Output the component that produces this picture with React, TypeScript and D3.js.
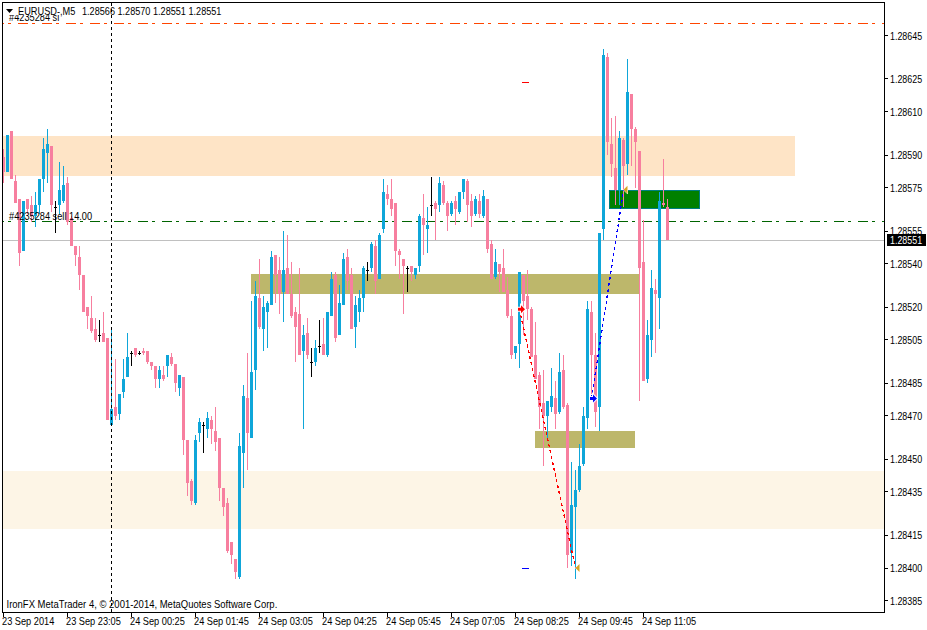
import * as React from "react";
import * as d3 from "d3";

const WIDTH = 927;
const HEIGHT = 630;

// prices are points above 1.28000, one entry per 5 minute bar
const opens = [
  589, 582, 601, 578, 570, 546, 570, 567, 562, 567, 579, 591, 594, 566, 567, 569, 577, 561, 548, 543,
  535, 520, 515, 510, 507, 508, 506, 466, 474, 471, 481, 488, 499, 501, 499, 500, 500, 495, 493, 487,
  489, 493, 497, 494, 483, 488, 459, 440, 430, 462, 466, 464, 468, 463, 460, 437, 430, 412, 404, 396,
  453, 478, 460, 491, 524, 510, 518, 521, 544, 537, 527, 538, 526, 518, 517, 500, 508, 495, 495, 502,
  503, 498, 516, 535, 507, 521, 543, 535, 511, 518, 524, 537, 538, 548, 533, 556, 572, 570, 568, 546,
  542, 538, 539, 535, 539, 561, 556, 567, 568, 567, 576, 568, 563, 569, 564, 573, 578, 569, 563, 569,
  562, 570, 549, 534, 540, 538, 528, 516, 499, 503, 535, 525, 519, 498, 489, 476, 470, 474, 478, 472,
  491, 475, 407, 428, 436, 448, 469, 518, 498, 474, 556, 635, 595, 584, 574, 597, 586, 618, 602, 592,
  541, 487, 505, 528, 524, 568, 566,
];
const highs = [
  593, 599, 601, 581, 570, 569, 570, 571, 573, 579, 598, 602, 594, 569, 587, 585, 580, 562, 548, 548,
  535, 520, 525, 515, 514, 518, 506, 510, 496, 480, 496, 508, 500, 501, 500, 501, 500, 495, 493, 493,
  493, 498, 499, 494, 489, 488, 459, 441, 461, 469, 467, 472, 470, 474, 460, 437, 432, 412, 404, 462,
  484, 499, 523, 532, 542, 525, 523, 546, 544, 543, 555, 553, 541, 520, 538, 512, 515, 501, 505, 514,
  515, 518, 536, 536, 530, 545, 547, 538, 525, 528, 539, 541, 550, 551, 554, 579, 576, 579, 568, 547,
  542, 539, 539, 538, 563, 572, 566, 580, 569, 580, 578, 569, 569, 571, 573, 579, 579, 572, 571, 572,
  574, 570, 551, 547, 540, 547, 534, 519, 502, 536, 535, 537, 520, 513, 490, 491, 477, 492, 486, 499,
  498, 476, 449, 445, 457, 474, 523, 523, 508, 554, 639, 637, 607, 608, 601, 598, 634, 618, 603, 592,
  560, 514, 537, 533, 573, 588, 570,
];
const lows = [
  577, 582, 579, 568, 539, 546, 563, 559, 557, 563, 573, 577, 564, 554, 563, 568, 558, 548, 539, 528,
  518, 510, 508, 504, 504, 504, 468, 466, 468, 468, 478, 488, 493, 497, 498, 498, 494, 491, 483, 483,
  486, 488, 493, 481, 479, 452, 433, 429, 429, 458, 453, 460, 457, 454, 431, 424, 407, 402, 395, 395,
  437, 445, 460, 482, 510, 500, 501, 521, 522, 517, 513, 526, 515, 495, 498, 464, 496, 488, 493, 499,
  498, 497, 516, 504, 507, 521, 528, 510, 501, 513, 518, 532, 536, 526, 533, 554, 567, 562, 539, 533,
  517, 527, 532, 533, 536, 544, 545, 562, 551, 564, 567, 555, 562, 558, 563, 570, 559, 557, 562, 561,
  561, 545, 533, 533, 527, 527, 515, 496, 496, 492, 507, 514, 497, 487, 464, 447, 460, 472, 464, 471,
  473, 400, 401, 395, 435, 447, 464, 480, 465, 463, 551, 590, 580, 567, 567, 566, 581, 585, 575, 477,
  486, 485, 497, 499, 510, 566, 551,
];
const closes = [
  582, 599, 579, 568, 545, 569, 565, 562, 567, 579, 593, 595, 567, 566, 574, 576, 559, 548, 544, 535,
  518, 516, 509, 505, 507, 504, 468, 473, 470, 480, 487, 497, 499, 498, 499, 499, 495, 493, 487, 491,
  487, 498, 494, 485, 489, 459, 439, 431, 459, 467, 466, 469, 464, 458, 437, 428, 408, 406, 398, 456,
  479, 462, 490, 525, 511, 520, 522, 543, 535, 526, 537, 526, 516, 511, 498, 507, 498, 495, 501, 502,
  498, 518, 533, 506, 522, 542, 532, 510, 521, 524, 538, 537, 549, 532, 553, 573, 570, 565, 546, 544,
  539, 538, 536, 538, 562, 558, 558, 567, 565, 577, 568, 562, 568, 565, 573, 579, 567, 562, 570, 563,
  571, 547, 533, 541, 536, 527, 516, 498, 502, 536, 523, 519, 497, 487, 474, 470, 477, 479, 471, 490,
  474, 406, 429, 436, 447, 470, 519, 498, 472, 554, 636, 596, 586, 574, 598, 585, 619, 602, 596, 538,
  486, 507, 529, 526, 569, 567, 551,
];

const priceTicks = [645, 625, 610, 590, 575, 555, 540, 520, 505, 485, 470, 450, 435, 415, 400, 385];
const timeLabels = [
  "23 Sep 2014", "23 Sep 23:05", "24 Sep 00:25", "24 Sep 01:45", "24 Sep 03:05", "24 Sep 04:25",
  "24 Sep 05:45", "24 Sep 07:05", "24 Sep 08:25", "24 Sep 09:45", "24 Sep 11:05",
];
const BARS_PER_LABEL = 16;

// [first bar, last bar, top price, bottom price, fill]
const zones: [number, number, number, number, string][] = [
  [-0.1, 197.9, 598.8, 580.4, "#FEE4C6"],
  [-0.1, 220.1, 444.7, 418, "#FDF5E6"],
  [61.8, 158.9, 535.3, 526.1, "#BDB76B"],
  [132.8, 157.9, 463, 455.2, "#BDB76B"],
];
const box = { from: 151.6, to: 174.1, top: 573.7, bottom: 565.6 };

const LEVEL_STOP = 650.6;
const LEVEL_SELL = 559.6;
const LAST_PRICE = 551;
const CURSOR_BAR = 27;

// trade arrows: [open bar, open price, close bar, close price]
const sellTrade = [129, 519, 143, 400];
const buyTrade = [147, 478, 155, 574];
const stopMarks: [number, number, string][] = [
  [129.5, 623.5, "#FF0000"],
  [129.5, 400, "#0000FF"],
];

const UP = "#0FA6D9";
const DOWN = "#F77F9F";
const FONT = "'Liberation Sans', sans-serif";
const DASH_DOT = "10 4 3 7";

const fmt = (p: number) => (1.28 + p / 100000).toFixed(5);

// the terminal font is narrower than anything installed, so squeeze it sideways
function Label({ x, y, sx = 0.86, fill = "#000", clipPath, children }: any) {
  return (
    <g clipPath={clipPath}>
      <text transform={`translate(${x},${y}) scale(${sx},1)`} fill={fill}>
        {children}
      </text>
    </g>
  );
}

export default function App() {
  const x = d3.scaleLinear().domain([0, 166]).range([3.5, 667.5]);
  const y = d3.scaleLinear().domain([400, 645]).range([568, 35.5]);
  const left = 2.5;
  const right = 884.5;
  const top = 2.5;
  const bottom = 612.5;

  const line = d3.line();
  const sellPath = line([[x(sellTrade[0]), y(sellTrade[1])], [x(sellTrade[2]), y(sellTrade[3])]]) || "";
  const buyPath = line([[x(buyTrade[0]), y(buyTrade[1])], [x(buyTrade[2]), y(buyTrade[3])]]) || "";

  const arrow = (bx: number, by: number, color: string) => (
    <g transform={`translate(${x(bx) - 1.5},${y(by)})`}>
      <path d="M0,-1.5H3V-4L7,0L3,4V1.5H0Z" fill={color} stroke="#fff" strokeWidth={2} paintOrder="stroke" />
    </g>
  );
  const closeMark = (bx: number, by: number) => (
    <path
      transform={`translate(${x(bx)},${y(by)})`}
      d="M0,0L4,-4V4Z"
      fill="#DAA520"
      stroke="#fff"
      strokeWidth={1}
      paintOrder="stroke"
    />
  );

  return (
    <svg
      width={WIDTH}
      height={HEIGHT}
      style={{ position: "absolute", left: 0, top: 0, background: "#fff" }}
      fontFamily={FONT}
      fontSize={11}
    >
      <defs>
        <clipPath id="below-title">
          <rect x={0} y={15} width={WIDTH} height={20} />
        </clipPath>
      </defs>

      {zones.map(([a, b, t, l, fill], i) => (
        <rect key={i} x={x(a)} width={x(b) - x(a)} y={y(t)} height={y(l) - y(t)} fill={fill} shapeRendering="crispEdges" />
      ))}
      <rect
        x={x(box.from)}
        width={x(box.to) - x(box.from)}
        y={y(box.top)}
        height={y(box.bottom) - y(box.top)}
        fill="#008000"
        stroke="#008080"
        shapeRendering="crispEdges"
      />

      <g shapeRendering="crispEdges">
        <line x1={left} x2={right} y1={y(LAST_PRICE) + 0.5} y2={y(LAST_PRICE) + 0.5} stroke="#C0C0C0" />
        <line x1={left} x2={right} y1={y(LEVEL_STOP)} y2={y(LEVEL_STOP)} stroke="#FF4500" strokeDasharray={DASH_DOT} strokeDashoffset={8.5} />
        <line x1={left} x2={right} y1={y(LEVEL_SELL)} y2={y(LEVEL_SELL)} stroke="#006400" strokeDasharray={DASH_DOT} strokeDashoffset={8.5} />
      </g>

      <g shapeRendering="crispEdges">
        {opens.map((o, i) => {
          const c = closes[i];
          const cx = x(i);
          const color = c === o ? "#000" : c > o ? UP : DOWN;
          const bodyTop = Math.round(y(Math.max(o, c)));
          const bodyBottom = Math.round(y(Math.min(o, c)));
          return (
            <g key={i}>
              <line x1={cx} x2={cx} y1={y(highs[i])} y2={y(lows[i])} stroke={color} />
              {c === o ? (
                <rect x={cx - 1.5} width={3} y={bodyTop} height={1} fill={color} />
              ) : (
                <rect x={cx - 1.5} width={3} y={bodyTop} height={bodyBottom - bodyTop} fill={color} />
              )}
            </g>
          );
        })}
      </g>

      <path d={sellPath} stroke="#FF0000" strokeWidth={1.3} strokeDasharray="3 3" fill="none" shapeRendering="crispEdges" />
      <path d={buyPath} stroke="#0000FF" strokeWidth={1.3} strokeDasharray="3 3" fill="none" shapeRendering="crispEdges" />
      {arrow(sellTrade[0], sellTrade[1], "#FF0000")}
      {arrow(buyTrade[0], buyTrade[1], "#0000FF")}
      {closeMark(sellTrade[2], sellTrade[3])}
      {closeMark(buyTrade[2], buyTrade[3])}
      {stopMarks.map(([b, p, color], i) => (
        <line key={i} x1={x(b)} x2={x(b) + 7} y1={y(p)} y2={y(p)} stroke={color} shapeRendering="crispEdges" />
      ))}

      <line
        x1={x(CURSOR_BAR)}
        x2={x(CURSOR_BAR)}
        y1={top}
        y2={bottom}
        stroke="#000"
        strokeDasharray="3 3"
        shapeRendering="crispEdges"
      />

      <Label x={9} y={21} sx={0.84} clipPath="url(#below-title)">#4235284 sl</Label>
      <Label x={9} y={219.5} sx={0.84}>#4235284 sell 14.00</Label>

      <rect x={left} y={top} width={right - left} height={bottom - top} fill="none" stroke="#000" shapeRendering="crispEdges" />

      <path d="M6,9H13L9.5,13Z" fill="#000" />
      <Label x={18} y={14.5} sx={0.84}>EURUSD-,M5</Label>
      <Label x={82} y={14.5} sx={0.83}>1.28566 1.28570 1.28551 1.28551</Label>
      <Label x={6.5} y={608} sx={0.863}>IronFX MetaTrader 4, © 2001-2014, MetaQuotes Software Corp.</Label>

      {priceTicks.map((p) => (
        <g key={p}>
          <line x1={right} x2={right + 3} y1={y(p)} y2={y(p)} stroke="#000" shapeRendering="crispEdges" />
          <Label x={890} y={y(p) + 4} sx={0.81}>{fmt(p)}</Label>
        </g>
      ))}
      <rect x={887} y={234} width={39} height={12} fill="#000" />
      <Label x={890} y={y(LAST_PRICE) + 4} sx={0.81} fill="#fff">{fmt(LAST_PRICE)}</Label>

      {timeLabels.map((label, i) => {
        const tx = x(i * BARS_PER_LABEL);
        return (
          <g key={label}>
            <line x1={tx} x2={tx} y1={bottom} y2={bottom + 4} stroke="#000" shapeRendering="crispEdges" />
            <Label x={tx - 1.5} y={625} sx={0.84}>{label}</Label>
          </g>
        );
      })}
    </svg>
  );
}
